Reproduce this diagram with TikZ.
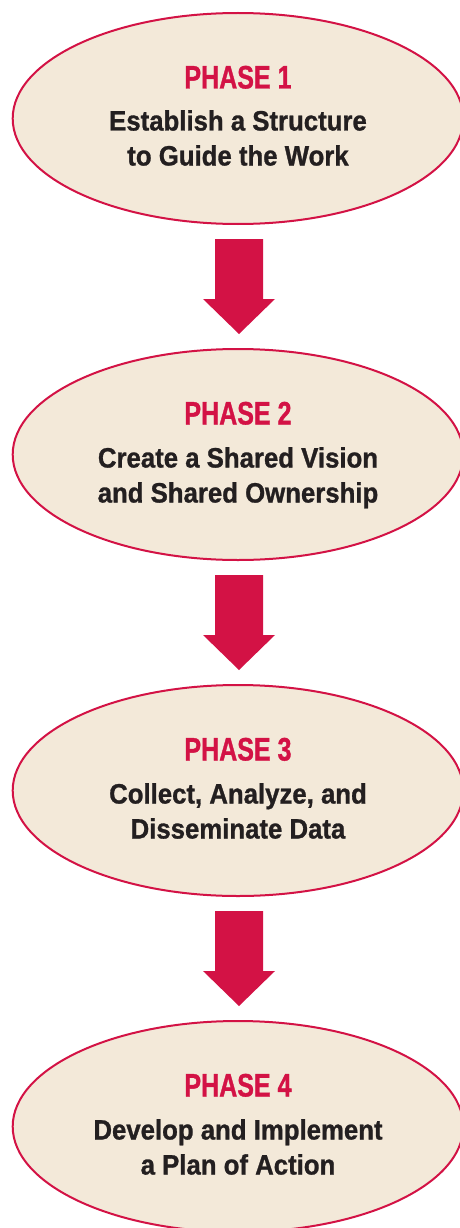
\documentclass[tikz,border=0pt]{standalone}
\usepackage{fontspec}
\setmainfont{Liberation Sans}
\newfontfamily\phasefont[FakeStretch=0.77,FakeBold=1]{Liberation Sans}
\newfontfamily\bodyfont[FakeStretch=0.92,FakeBold=1]{Liberation Sans}
\usetikzlibrary{shapes.geometric,calc}
\definecolor{phred}{HTML}{D31245}
\definecolor{phfill}{HTML}{F3E9D9}
\definecolor{phtext}{HTML}{231F20}
\tikzset{
  phasebox/.style={ellipse, draw=phred, line width=2pt, fill=phfill,
    minimum width=450.6pt, minimum height=211pt, inner sep=0pt},
  phasetitle/.style={anchor=base, inner sep=0pt, text=phred,
    font=\phasefont\bfseries\fontsize{32.5}{39}\selectfont},
  phaseline/.style={anchor=base, inner sep=0pt, text=phtext,
    font=\bodyfont\bfseries\fontsize{28}{35}\selectfont},
  blockarrow/.style={fill=phred, draw=none}
}
\begin{document}
\begin{tikzpicture}[x=1pt,y=-1pt]
\useasboundingbox (0,0) rectangle (460,1228);
\clip (0,0) rectangle (460,1228);
\node[phasebox] (p1) at (238,118.5) {};
\node[phasebox] (p2) at (238,454.5) {};
\node[phasebox] (p3) at (238,790.5) {};
\node[phasebox] (p4) at (238,1126.5) {};
% titles and lines
\node[phasetitle] (t1) at ($(p1.center)+(0,-30)$) {PHASE 1};
\node[phaseline] (a1) at ($(p1.center)+(0,12)$) {Establish a Structure};
\node[phaseline] (b1) at ($(p1.center)+(0,47)$) {to Guide the Work};
\node[phasetitle] (t2) at ($(p2.center)+(0,-30)$) {PHASE 2};
\node[phaseline] (a2) at ($(p2.center)+(0,13)$) {Create a Shared Vision};
\node[phaseline] (b2) at ($(p2.center)+(0,48)$) {and Shared Ownership};
\node[phasetitle] (t3) at ($(p3.center)+(0,-30)$) {PHASE 3};
\node[phaseline] (a3) at ($(p3.center)+(0,13)$) {Collect, Analyze, and};
\node[phaseline] (b3) at ($(p3.center)+(0,48)$) {Disseminate Data};
\node[phasetitle] (t4) at ($(p4.center)+(0,-30)$) {PHASE 4};
\node[phaseline] (a4) at ($(p4.center)+(0,13)$) {Develop and Implement};
\node[phaseline] (b4) at ($(p4.center)+(0,48)$) {a Plan of Action};
% block arrows between phases
\foreach \u/\v in {p1/p2, p2/p3, p3/p4} {
  \coordinate (top-\u) at ($(\u.south)+(1,14)$);
  \fill[blockarrow, shift={(top-\u)}] (-24,0) -- (24,0) -- (24,60) -- (36,60)
     -- (0,95) -- (-36,60) -- (-24,60) -- cycle;
}
\end{tikzpicture}
\end{document}
